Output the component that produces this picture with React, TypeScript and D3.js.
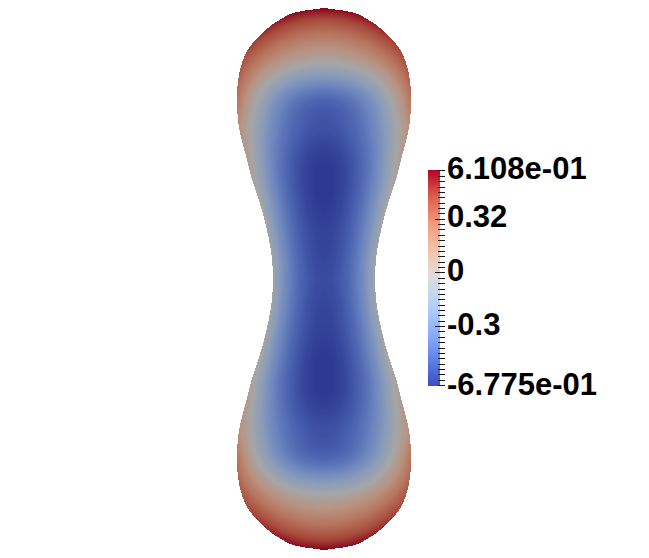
import React, { useMemo } from "react";
import * as d3 from "d3";

// ---- data ----
const valueRange = [-0.6775, 0.6108];
// outline half-width profile along the axis (model units, symmetric about z=0)
const profileZ = [0, 0.22, 0.54, 0.87, 1.1, 1.32, 1.48, 1.68, 1.98, 2.31, 2.54, 2.76, 2.87, 2.96, 3.0];
const profileR = [0.565, 0.576, 0.631, 0.72, 0.797, 0.852, 0.897, 0.941, 0.963, 0.93, 0.841, 0.642, 0.487, 0.277, 0];
// scalar value along the axis centre line
const centerZ = [0, 0.49, 1.0, 1.3, 1.6, 1.98, 2.2, 2.42, 2.65, 2.87, 3.0];
const centerV = [-0.61, -0.64, -0.68, -0.67, -0.6, -0.5, -0.27, 0, 0.22, 0.44, 0.61];
// scalar value along the outline
const edgeZ = [0, 0.54, 0.87, 1.1, 1.32, 1.65, 1.98, 2.31, 2.54, 2.76, 3.0];
const edgeV = [-0.08, -0.06, -0.02, 0.02, 0.07, 0.15, 0.28, 0.38, 0.45, 0.52, 0.61];
// cool-to-warm colour map stops
const coolWarm = ["#3b4cc0", "#6282ea", "#8db0fe", "#b8d0f9", "#dddddd", "#f5c4ad", "#f49a7b", "#de604d", "#b40426"];
// colour bar labels
const tickValues = [0.6108, 0.32, 0, -0.32, -0.6775];
const tickLabels = ["6.108e-01", "0.32", "0", "-0.3", "-6.775e-01"];
const minorStep = 0.032;

const W = 649, H = 558;

function monotone(xs: number[], ys: number[]) {
  const n = xs.length;
  const d: number[] = [];
  for (let i = 0; i < n - 1; i++) d.push((ys[i + 1] - ys[i]) / (xs[i + 1] - xs[i]));
  const m: number[] = new Array(n);
  m[0] = d[0];
  m[n - 1] = d[n - 2];
  for (let i = 1; i < n - 1; i++) m[i] = d[i - 1] * d[i] <= 0 ? 0 : (d[i - 1] + d[i]) / 2;
  for (let i = 0; i < n - 1; i++) {
    if (d[i] === 0) { m[i] = 0; m[i + 1] = 0; continue; }
    const a = m[i] / d[i], b = m[i + 1] / d[i];
    const s = a * a + b * b;
    if (s > 9) { const t = 3 / Math.sqrt(s); m[i] = t * a * d[i]; m[i + 1] = t * b * d[i]; }
  }
  return (x: number) => {
    if (x <= xs[0]) return ys[0];
    if (x >= xs[n - 1]) return ys[n - 1];
    let i = d3.bisectRight(xs, x) - 1;
    if (i >= n - 1) i = n - 2;
    const h = xs[i + 1] - xs[i];
    const t = (x - xs[i]) / h;
    const t2 = t * t, t3 = t2 * t;
    return (2 * t3 - 3 * t2 + 1) * ys[i] + (t3 - 2 * t2 + t) * h * m[i] + (-2 * t3 + 3 * t2) * ys[i + 1] + (t3 - t2) * h * m[i + 1];
  };
}

export default function App() {
  const k = 271 / 3;
  const y = d3.scaleLinear().domain([-3, 3]).range([279 + 271, 279 - 271]);
  const x = d3.scaleLinear().domain([-1, 1]).range([324 - k, 324 + k]);
  const tScale = d3.scaleLinear().domain(valueRange).range([0, 1]).clamp(true);
  const color = d3.scaleLinear<string>()
    .domain(coolWarm.map((_, i) => i / (coolWarm.length - 1)))
    .range(coolWarm)
    .interpolate(d3.interpolateRgb);
  const shade = 0.75;

  const img = useMemo(() => {
    const rAt = monotone(profileZ, profileR);
    const cAt = monotone(centerZ, centerV);
    const eAt = monotone(edgeZ, edgeV);
    const lut: number[][] = d3.range(256).map((i) => {
      const c = d3.rgb(color(i / 255));
      return [c.r * shade, c.g * shade, c.b * shade];
    });
    const x0 = Math.floor(x(-1.05)), x1 = Math.ceil(x(1.05));
    const y0 = Math.floor(y(3)) - 1, y1 = Math.ceil(y(-3)) + 1;
    const w = x1 - x0, h = y1 - y0;
    const cv = document.createElement("canvas");
    cv.width = w; cv.height = h;
    const ctx = cv.getContext("2d")!;
    const data = ctx.createImageData(w, h);
    for (let j = 0; j < h; j++) {
      const z = Math.abs(y.invert(y0 + j + 0.5));
      if (z > 3) continue;
      const r = rAt(z);
      const cv0 = cAt(z), ev = eAt(z);
      for (let i = 0; i < w; i++) {
        const xu = Math.abs(x.invert(x0 + i + 0.5));
        if (xu > r) continue;
        const s = r > 0 ? xu / r : 0;
        const v = cv0 + (ev - cv0) * s * s;
        const c = lut[Math.round(tScale(v) * 255)];
        const p = (j * w + i) * 4;
        data.data[p] = c[0]; data.data[p + 1] = c[1]; data.data[p + 2] = c[2]; data.data[p + 3] = 255;
      }
    }
    ctx.putImageData(data, 0, 0);
    return { href: cv.toDataURL(), x: x0, y: y0, w, h };
  }, []);

  // colour bar
  const barX = 428, barW = 12;
  const bar = d3.scaleLinear().domain(valueRange).range([386, 170]);
  const minor = d3.range(Math.ceil(valueRange[0] / minorStep), Math.floor(valueRange[1] / minorStep) + 1).map((i) => i * minorStep);
  const gradStops = d3.range(0, 1.0001, 0.05);

  return (
    <svg width={W} height={H} style={{ position: "absolute", left: 0, top: 0, background: "#fff", display: "block" }}>
      <defs>
        <linearGradient id="cb" x1="0" y1="1" x2="0" y2="0">
          {gradStops.map((t) => (
            <stop key={t} offset={t} stopColor={color(t)} />
          ))}
        </linearGradient>
      </defs>
      <image href={img.href} x={img.x} y={img.y} width={img.w} height={img.h} style={{ imageRendering: "pixelated" }} />
      <rect x={barX} y={bar(valueRange[1])} width={barW} height={bar(valueRange[0]) - bar(valueRange[1])} fill="url(#cb)" />
      {minor.map((v) => {
        const major = Math.abs(v - 0.32) < 1e-6 || Math.abs(v) < 1e-6 || Math.abs(v + 0.32) < 1e-6;
        const yy = Math.round(bar(v)) + 0.5;
        return <line key={v} x1={major ? barX + 7 : barX + 10} x2={barX + 17} y1={yy} y2={yy} stroke="#1a1a1a" strokeWidth={1} />;
      })}
      {tickValues.map((v, i) => (
        <text key={i} x={447} y={bar(v) + 8.5} fontFamily="'Liberation Sans', Arial, sans-serif" fontWeight="bold" fontSize={31} fill="#000">
          {tickLabels[i]}
        </text>
      ))}
    </svg>
  );
}
